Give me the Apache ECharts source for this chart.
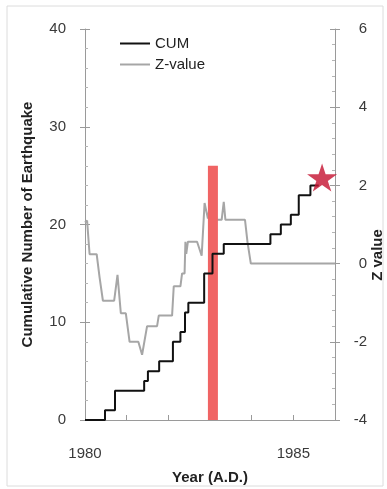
<!DOCTYPE html>
<html>
<head>
<meta charset="utf-8">
<script src="https://cdn.jsdelivr.net/npm/echarts@6/dist/echarts.min.js"></script>
<style>
html,body{margin:0;padding:0;background:#fff;}
#chart{width:387px;height:489px;}
</style>
</head>
<body>
<div id="chart"></div>
<script>
// ---- data ----
var cumYears  = [1980.00, 1980.48, 1980.72, 1981.42, 1981.51, 1981.78, 1982.11, 1982.29, 1982.40, 1982.48, 1982.86, 1983.06, 1983.33, 1984.45, 1984.70, 1984.94, 1985.13, 1985.41, 1985.61];
var cumCounts = [0,       1,       3,       4,       5,       6,       8,       9,       11,      12,      15,      17,      18,      19,      20,      21,      23,      24,      24];

var zYears  = [1980.00, 1980.05, 1980.11, 1980.28, 1980.35, 1980.43, 1980.70, 1980.78, 1980.86, 1980.98, 1981.07, 1981.28, 1981.37, 1981.49, 1981.73, 1981.77, 1982.09, 1982.13, 1982.29, 1982.33, 1982.39, 1982.41, 1982.43, 1982.47, 1982.69, 1982.80, 1982.87, 1982.90, 1982.95, 1983.06, 1983.16, 1983.28, 1983.33, 1983.37, 1983.84, 1983.90, 1983.98, 1986.00];
var zValues = [1.05,    1.10,    0.24,    0.24,    -0.35,   -0.95,   -0.95,   -0.29,   -1.27,   -1.27,   -2.00,   -2.00,   -2.33,   -1.60,   -1.60,   -1.33,   -1.33,   -0.58,   -0.58,   -0.25,   -0.25,   0.56,    0.25,    0.56,    0.56,    0.20,    1.55,    1.55,    1.15,    1.90,    1.12,    1.12,    1.58,    1.12,    1.12,    0.55,    0.00,    0.00];

var barYear = [1983.07];
var barHeight = [26];
var starYear = [1985.69];
var starValue = [24.8];

var xTickLabels = [1980, 1985];
var leftTicks = [0, 40, 10];   // min, max, interval
var rightTicks = [-4, 6, 2];

// ---- build ----
function pairs(xs, ys){ return xs.map(function(x,i){ return [x, ys[i]]; }); }
var FONT = '"Liberation Sans", Arial, sans-serif';
var chart = echarts.init(document.getElementById('chart'), null, {renderer:'canvas'});
var axisGray = '#9a9a9a';
var labelColor = '#3a3a3a';

var option = {
  backgroundColor: '#ffffff',
  animation: false,
  textStyle: {fontFamily: FONT},
  graphic: [{
    type: 'rect', shape: {x: 7, y: 6, width: 376, height: 480},
    style: {fill: 'none', stroke: '#dcdcdc', lineWidth: 1}, silent: true, z: -10
  }, {
    type: 'text', x: 378, y: 255, rotation: Math.PI / 2, silent: true,
    style: {text: 'Z value', font: 'bold 15px "Liberation Sans", Arial, sans-serif', fill: '#222', align: 'center', verticalAlign: 'middle'}
  }],
  grid: {left: 85, right: 52, top: 29, bottom: 69, containLabel: false, outerBoundsMode: 'none'},
  legend: {
    orient: 'vertical', left: 115, top: 30,
    itemWidth: 30, itemHeight: 2, itemGap: 4,
    textStyle: {fontFamily: FONT, fontSize: 15, color: '#222', lineHeight: 17},
    data: [{name: 'CUM', icon: 'rect', itemStyle: {color: '#111'}},
           {name: 'Z-value', icon: 'rect', itemStyle: {color: '#a6a6a6'}}]
  },
  xAxis: {
    type: 'value', min: 1980, max: 1986, interval: 1,
    name: 'Year (A.D.)', nameLocation: 'middle', nameGap: 50,
    nameTextStyle: {fontFamily: FONT, fontSize: 15, fontWeight: 'bold', color: '#222'},
    axisLine: {show: true, lineStyle: {color: axisGray, width: 1}},
    axisTick: {show: true, inside: true, length: 5, lineStyle: {color: axisGray}},
    axisLabel: {
      margin: 26, fontSize: 15, color: labelColor, fontFamily: FONT,
      formatter: function(v){ return xTickLabels.indexOf(Math.round(v)) >= 0 && Math.abs(v-Math.round(v))<1e-6 ? String(Math.round(v)) : ''; }
    },
    splitLine: {show: false}
  },
  yAxis: [{
    type: 'value', position: 'left', min: leftTicks[0], max: leftTicks[1], interval: leftTicks[2],
    name: 'Cumulative Number of Earthquake', nameLocation: 'middle', nameGap: 50, nameRotate: 90,
    nameTextStyle: {fontFamily: FONT, fontSize: 15, fontWeight: 'bold', color: '#222'},
    axisLine: {show: true, lineStyle: {color: axisGray}},
    axisTick: {show: true, inside: true, length: 5, lineStyle: {color: axisGray}},
    minorTick: {show: true, splitNumber: 5, length: 3, lineStyle: {color: '#b5b5b5'}},
    axisLabel: {margin: 19, fontSize: 15, color: labelColor, fontFamily: FONT},
    splitLine: {show: false}
  }, {
    type: 'value', position: 'right', min: rightTicks[0], max: rightTicks[1], interval: rightTicks[2],
    axisLine: {show: true, lineStyle: {color: axisGray}},
    axisTick: {show: true, inside: true, length: 5, lineStyle: {color: axisGray}},
    minorTick: {show: true, splitNumber: 5, length: 3, lineStyle: {color: '#b5b5b5'}},
    axisLabel: {margin: 32, align: 'right', fontSize: 15, color: labelColor, fontFamily: FONT},
    splitLine: {show: false}
  }, {
    type: 'value', position: 'left', min: leftTicks[0], max: leftTicks[1], interval: leftTicks[2],
    axisLine: {show: false}, axisLabel: {show: false}, splitLine: {show: false},
    axisTick: {show: true, inside: false, length: 5, lineStyle: {color: axisGray}}
  }, {
    type: 'value', position: 'right', min: rightTicks[0], max: rightTicks[1], interval: rightTicks[2],
    axisLine: {show: false}, axisLabel: {show: false}, splitLine: {show: false},
    axisTick: {show: true, inside: false, length: 5, lineStyle: {color: axisGray}}
  }],
  series: [{
    name: 'Z-value', type: 'line', yAxisIndex: 1, symbol: 'none', z: 2,
    lineStyle: {color: '#a6a6a6', width: 2}, itemStyle: {color: '#a6a6a6'},
    data: pairs(zYears, zValues)
  }, {
    name: 'redbar', type: 'bar', yAxisIndex: 0, barWidth: 10, z: 3,
    itemStyle: {color: '#f06464'},
    data: pairs(barYear, barHeight)
  }, {
    name: 'CUM', type: 'line', yAxisIndex: 0, step: 'end', symbol: 'none', z: 4,
    lineStyle: {color: '#111111', width: 2}, itemStyle: {color: '#111111'},
    data: pairs(cumYears, cumCounts)
  }, {
    name: 'star', type: 'scatter', yAxisIndex: 0, z: 5,
    symbol: 'path://M50,0 L61.2,34.5 L97.6,34.5 L68.2,55.9 L79.4,90.5 L50,69.1 L20.6,90.5 L31.8,55.9 L2.4,34.5 L38.8,34.5 Z',
    symbolSize: [30, 28],
    itemStyle: {color: '#c41230'},
    data: pairs(starYear, starValue)
  }]
};
chart.setOption(option);
</script>
</body>
</html>
